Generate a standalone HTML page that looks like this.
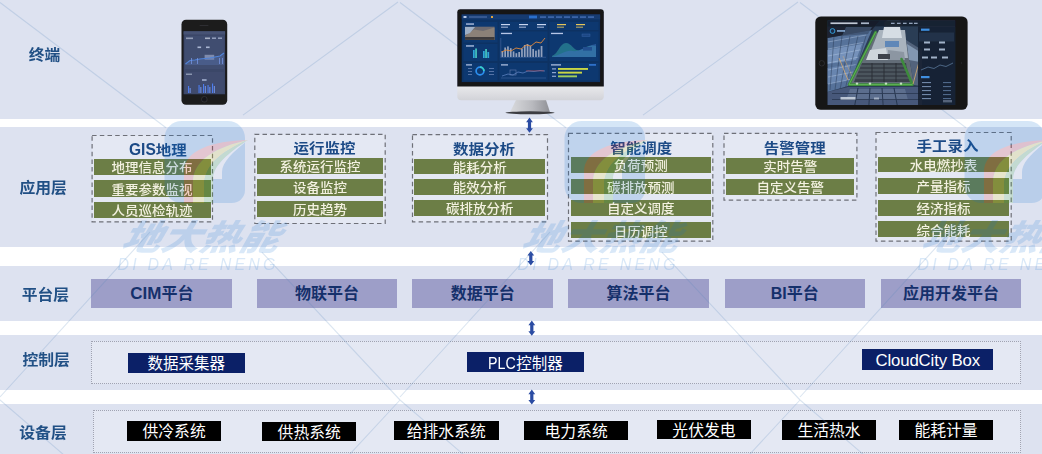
<!DOCTYPE html>
<html lang="zh-CN"><head><meta charset="utf-8"><title>系统架构</title>
<style>
html,body{margin:0;padding:0;background:#fff;}
body{width:1042px;height:454px;position:relative;overflow:hidden;font-family:"Liberation Sans","Noto Sans CJK SC",sans-serif;}
.abs,.band,.lab,.dash,.g,.ttl,.p,.nv,.bk,.dot{position:absolute;box-sizing:border-box;}
.band{left:0;width:1042px;background:#dde2f0;}
.lab{left:0;width:90px;text-align:center;color:#215085;font-weight:700;font-size:15.8px;transform:scaleY(.93);transform-origin:50% 50%;line-height:20px;white-space:nowrap;}
.dash{border:1.3px dashed #7f8696;}
.sq{display:inline-block;transform:scaleY(.93);transform-origin:50% 60%;}
.g{background:#6c7e46;color:#f3f1e0;font-weight:500;font-size:13.5px;line-height:16px;text-align:center;white-space:nowrap;overflow:hidden;}
.ttl{color:#1c4a86;font-weight:700;font-size:15.5px;line-height:18px;transform:scaleY(.9);transform-origin:50% 90%;text-align:center;white-space:nowrap;}
.p{background:#9d9ec8;color:#15306b;font-weight:700;font-size:16px;text-align:center;white-space:nowrap;}
.nv{background:#0b2067;color:#fff;font-size:15.5px;text-align:center;white-space:nowrap;}
.bk{background:#000;color:#fff;font-size:15.8px;text-align:center;white-space:nowrap;}
.dot{border:1px dotted #a0a3b2;background:rgba(255,255,255,.22);}
svg{position:absolute;left:0;top:0;}
</style></head><body>

<div class="band" style="top:0px;height:119px"></div>
<div class="band" style="top:127px;height:120px"></div>
<div class="band" style="top:266px;height:55px"></div>
<div class="band" style="top:335px;height:55px"></div>
<div class="band" style="top:404px;height:50px"></div>
<div class="lab" style="left:-0.4px;top:44.6px">终端</div>
<div class="lab" style="left:-1.8px;top:178.2px">应用层</div>
<div class="lab" style="left:0.4px;top:285.0px">平台层</div>
<div class="lab" style="left:1.2px;top:350.2px">控制层</div>
<div class="lab" style="left:-2.0px;top:422.5px">设备层</div>
<svg width="1042" height="454" viewBox="0 0 1042 454" fill="none"><rect x="92.1" y="135.5" width="120.4" height="86.3" fill="rgba(255,255,255,0.22)" stroke="#6e7078" stroke-width="1.2" stroke-dasharray="4.5 3.2"/><rect x="254.8" y="134.3" width="130.4" height="89.2" fill="rgba(255,255,255,0.22)" stroke="#6e7078" stroke-width="1.2" stroke-dasharray="4.5 3.2"/><rect x="412.5" y="134.7" width="135.0" height="87.1" fill="rgba(255,255,255,0.22)" stroke="#6e7078" stroke-width="1.2" stroke-dasharray="4.5 3.2"/><rect x="568.5" y="133.4" width="144.3" height="107.7" fill="rgba(255,255,255,0.22)" stroke="#6e7078" stroke-width="1.2" stroke-dasharray="4.5 3.2"/><rect x="724.0" y="133.4" width="132.9" height="66.8" fill="rgba(255,255,255,0.22)" stroke="#6e7078" stroke-width="1.2" stroke-dasharray="4.5 3.2"/><rect x="876.0" y="132.5" width="135.2" height="108.6" fill="rgba(255,255,255,0.22)" stroke="#6e7078" stroke-width="1.2" stroke-dasharray="4.5 3.2"/></svg>
<div class="ttl" style="left:97.8px;top:139.6px;width:120px"><span style="display:inline-block;width:27px;text-align:left;vertical-align:baseline"><span style="display:inline-block;font-size:18.4px;transform:scaleX(.845);transform-origin:0 50%">GIS</span></span>地理</div>
<div class="g" style="left:93.5px;top:158.6px;width:117.2px;height:16.1px;line-height:18.7px"><span class="sq">地理信息分布</span></div>
<div class="g" style="left:93.5px;top:180.2px;width:117.2px;height:16.6px;line-height:19.2px"><span class="sq">重要参数监视</span></div>
<div class="g" style="left:93.5px;top:202.3px;width:117.2px;height:15.5px;line-height:18.1px"><span class="sq">人员巡检轨迹</span></div>
<div class="ttl" style="left:264.6px;top:139.3px;width:120px">运行监控</div>
<div class="g" style="left:256.8px;top:158.0px;width:126.6px;height:15.6px;line-height:18.2px"><span class="sq">系统运行监控</span></div>
<div class="g" style="left:256.8px;top:179.3px;width:126.6px;height:16.3px;line-height:18.9px"><span class="sq">设备监控</span></div>
<div class="g" style="left:256.8px;top:201.3px;width:126.6px;height:15.7px;line-height:18.3px"><span class="sq">历史趋势</span></div>
<div class="ttl" style="left:424.0px;top:139.5px;width:120px">数据分析</div>
<div class="g" style="left:414.3px;top:158.5px;width:130.9px;height:15.5px;line-height:18.1px"><span class="sq">能耗分析</span></div>
<div class="g" style="left:414.3px;top:179.3px;width:130.9px;height:15.5px;line-height:18.1px"><span class="sq">能效分析</span></div>
<div class="g" style="left:414.3px;top:200.3px;width:130.9px;height:16.0px;line-height:18.6px"><span class="sq">碳排放分析</span></div>
<div class="ttl" style="left:581.3px;top:139.0px;width:120px">智能调度</div>
<div class="g" style="left:570.7px;top:157.2px;width:140.3px;height:15.8px;line-height:18.4px"><span class="sq">负荷预测</span></div>
<div class="g" style="left:570.7px;top:178.7px;width:140.3px;height:15.7px;line-height:18.3px"><span class="sq">碳排放预测</span></div>
<div class="g" style="left:570.7px;top:200.0px;width:140.3px;height:15.9px;line-height:18.5px"><span class="sq">自定义调度</span></div>
<div class="g" style="left:570.7px;top:221.6px;width:140.3px;height:16.4px;line-height:19.0px"><span class="sq">日历调控</span></div>
<div class="ttl" style="left:734.7px;top:139.3px;width:120px">告警管理</div>
<div class="g" style="left:725.8px;top:158.0px;width:128.7px;height:15.8px;line-height:18.4px"><span class="sq">实时告警</span></div>
<div class="g" style="left:725.8px;top:179.2px;width:128.7px;height:15.8px;line-height:18.4px"><span class="sq">自定义告警</span></div>
<div class="ttl" style="left:887.5px;top:137.0px;width:120px">手工录入</div>
<div class="g" style="left:877.7px;top:156.6px;width:131.7px;height:15.8px;line-height:18.4px"><span class="sq">水电燃抄表</span></div>
<div class="g" style="left:877.7px;top:178.0px;width:131.7px;height:15.8px;line-height:18.4px"><span class="sq">产量指标</span></div>
<div class="g" style="left:877.7px;top:199.6px;width:131.7px;height:16.3px;line-height:18.9px"><span class="sq">经济指标</span></div>
<div class="g" style="left:877.7px;top:220.7px;width:131.7px;height:16.6px;line-height:19.2px"><span class="sq">综合能耗</span></div>
<div class="p" style="left:91.4px;top:279.2px;width:141.0px;height:28.5px;line-height:30px"><span style="font-size:17px">CIM</span>平台</div>
<div class="p" style="left:256.8px;top:279.2px;width:140.4px;height:28.5px;line-height:30px">物联平台</div>
<div class="p" style="left:412.3px;top:279.2px;width:141.1px;height:28.5px;line-height:30px">数据平台</div>
<div class="p" style="left:568.2px;top:279.2px;width:140.6px;height:28.5px;line-height:30px">算法平台</div>
<div class="p" style="left:724.6px;top:279.2px;width:140.4px;height:28.5px;line-height:30px">BI平台</div>
<div class="p" style="left:880.8px;top:279.2px;width:140.4px;height:28.5px;line-height:30px">应用开发平台</div>
<div class="dot" style="left:90.7px;top:341px;width:930.5px;height:42.5px"></div>
<div class="nv" style="left:128.0px;top:353.4px;width:116.6px;height:19.4px;line-height:21.8px">数据采集器</div>
<div class="nv" style="left:467.2px;top:352.2px;width:116.8px;height:19.6px;line-height:22.0px"><span style="display:inline-block;width:27.9px;text-align:left"><span style="display:inline-block;font-size:16.3px;transform:scaleX(.875);transform-origin:0 50%">PLC</span></span>控制器</div>
<div class="nv" style="left:862.0px;top:349.3px;width:131.4px;height:20.4px;line-height:23.2px"><span style="font-size:16.8px;letter-spacing:-.15px">CloudCity Box</span></div>
<div class="dot" style="left:93.4px;top:410.3px;width:927.8px;height:42.6px"></div>
<div class="bk" style="left:127.2px;top:421.1px;width:93.8px;height:19.7px;line-height:22.3px">供冷系统</div>
<div class="bk" style="left:262.0px;top:421.6px;width:94.4px;height:19.8px;line-height:22.4px">供热系统</div>
<div class="bk" style="left:393.7px;top:420.9px;width:105.1px;height:19.1px;line-height:21.7px">给排水系统</div>
<div class="bk" style="left:523.8px;top:420.6px;width:104.7px;height:19.0px;line-height:21.6px">电力系统</div>
<div class="bk" style="left:656.7px;top:420.3px;width:94.5px;height:19.2px;line-height:21.8px">光伏发电</div>
<div class="bk" style="left:781.7px;top:420.3px;width:94.7px;height:19.3px;line-height:21.9px">生活热水</div>
<div class="bk" style="left:899.0px;top:420.3px;width:94.0px;height:19.3px;line-height:21.9px">能耗计量</div>
<svg width="1042" height="454" viewBox="0 0 1042 454"><path d="M529.5 117.6 L532.9 122.2 L531.1 122.2 L531.1 128.2 L532.9 128.2 L529.5 132.8 L526.1 128.2 L527.9 128.2 L527.9 122.2 L526.1 122.2 Z" fill="#2b4ca3"/><path d="M530.8 250.9 L534.2 255.5 L532.4 255.5 L532.4 260.9 L534.2 260.9 L530.8 265.5 L527.4 260.9 L529.2 260.9 L529.2 255.5 L527.4 255.5 Z" fill="#2b4ca3"/><path d="M531.8 320.6 L535.2 325.2 L533.4 325.2 L533.4 331.2 L535.2 331.2 L531.8 335.8 L528.4 331.2 L530.2 331.2 L530.2 325.2 L528.4 325.2 Z" fill="#2b4ca3"/><path d="M531.8 389.6 L535.2 394.2 L533.4 394.2 L533.4 399.9 L535.2 399.9 L531.8 404.5 L528.4 399.9 L530.2 399.9 L530.2 394.2 L528.4 394.2 Z" fill="#2b4ca3"/></svg>
<svg width="1042" height="454" viewBox="0 0 1042 454" style="pointer-events:none"><g transform="translate(0 0)"><g opacity=".165"><path d="M181.5 121.0 H228.0 A17 17 0 0 1 245.0 138.0 V190.0 A13 13 0 0 1 232.0 203.0 H181.5 A17 17 0 0 1 164.5 186.0 V138.0 A17 17 0 0 1 181.5 121.0 Z" fill="#0a6ed2"/><path d="M184 203 L184 172 C184 150 212 141 248 140 C216 147 193 160 193 182 L193 203 Z" fill="#e6202c"/><path d="M193 203 L193 182 C193 160 216 147 248 140 C222 151 204 165 204 186 L204 203 Z" fill="#fae114"/><path d="M204 203 L204 186 C204 165 222 151 248 140 C228 153 213 166 213 179 L213 203 Z" fill="#46b43c"/><path d="M213 179 C213 166 228 153 248 140 C233 152 222 162 222 172 L222 179 Z" fill="#ffffff"/></g><text x="119.5" y="250" font-family="'Liberation Sans','Noto Sans CJK SC',sans-serif" font-weight="900" font-style="italic" font-size="35" fill="#0a6ed2" opacity=".15" textLength="157" lengthAdjust="spacingAndGlyphs" transform="translate(71.69 0) skewX(-16)">地大热能</text><text x="117.5" y="269.6" font-family="'Liberation Sans',sans-serif" font-style="italic" font-size="16" fill="#0a6ed2" opacity=".15" textLength="158" lengthAdjust="spacing">DI DA RE NENG</text></g><g transform="translate(400 0)"><g opacity=".165"><path d="M181.5 121.0 H228.0 A17 17 0 0 1 245.0 138.0 V190.0 A13 13 0 0 1 232.0 203.0 H181.5 A17 17 0 0 1 164.5 186.0 V138.0 A17 17 0 0 1 181.5 121.0 Z" fill="#0a6ed2"/><path d="M184 203 L184 172 C184 150 212 141 248 140 C216 147 193 160 193 182 L193 203 Z" fill="#e6202c"/><path d="M193 203 L193 182 C193 160 216 147 248 140 C222 151 204 165 204 186 L204 203 Z" fill="#fae114"/><path d="M204 203 L204 186 C204 165 222 151 248 140 C228 153 213 166 213 179 L213 203 Z" fill="#46b43c"/><path d="M213 179 C213 166 228 153 248 140 C233 152 222 162 222 172 L222 179 Z" fill="#ffffff"/></g><text x="119.5" y="250" font-family="'Liberation Sans','Noto Sans CJK SC',sans-serif" font-weight="900" font-style="italic" font-size="35" fill="#0a6ed2" opacity=".15" textLength="157" lengthAdjust="spacingAndGlyphs" transform="translate(71.69 0) skewX(-16)">地大热能</text><text x="117.5" y="269.6" font-family="'Liberation Sans',sans-serif" font-style="italic" font-size="16" fill="#0a6ed2" opacity=".15" textLength="158" lengthAdjust="spacing">DI DA RE NENG</text></g><g transform="translate(800 0)"><g opacity=".165"><path d="M181.5 121.0 H228.0 A17 17 0 0 1 245.0 138.0 V190.0 A13 13 0 0 1 232.0 203.0 H181.5 A17 17 0 0 1 164.5 186.0 V138.0 A17 17 0 0 1 181.5 121.0 Z" fill="#0a6ed2"/><path d="M184 203 L184 172 C184 150 212 141 248 140 C216 147 193 160 193 182 L193 203 Z" fill="#e6202c"/><path d="M193 203 L193 182 C193 160 216 147 248 140 C222 151 204 165 204 186 L204 203 Z" fill="#fae114"/><path d="M204 203 L204 186 C204 165 222 151 248 140 C228 153 213 166 213 179 L213 203 Z" fill="#46b43c"/><path d="M213 179 C213 166 228 153 248 140 C233 152 222 162 222 172 L222 179 Z" fill="#ffffff"/></g><text x="119.5" y="250" font-family="'Liberation Sans','Noto Sans CJK SC',sans-serif" font-weight="900" font-style="italic" font-size="35" fill="#0a6ed2" opacity=".15" textLength="157" lengthAdjust="spacingAndGlyphs" transform="translate(71.69 0) skewX(-16)">地大热能</text><text x="117.5" y="269.6" font-family="'Liberation Sans',sans-serif" font-style="italic" font-size="16" fill="#0a6ed2" opacity=".15" textLength="158" lengthAdjust="spacing">DI DA RE NENG</text></g></svg>
<svg width="1042" height="454" viewBox="0 0 1042 454" style="pointer-events:none"><g stroke="#4f82b8" stroke-width="1.1" opacity=".2" fill="none"><line x1="-400.0" y1="2.5" x2="-234.0" y2="127.8"/><line x1="-2.0" y1="2.0" x2="-157.0" y2="115.1"/><line x1="-400.0" y1="397.0" x2="-250.0" y2="232.0"/><line x1="0.0" y1="400.0" x2="-138.0" y2="252.3"/><line x1="0.0" y1="400.0" x2="70.0" y2="460.2"/><line x1="0.0" y1="400.0" x2="-60.0" y2="464.8"/><line x1="0.0" y1="2.5" x2="166.0" y2="127.8"/><line x1="398.0" y1="2.0" x2="243.0" y2="115.1"/><line x1="0.0" y1="397.0" x2="150.0" y2="232.0"/><line x1="400.0" y1="400.0" x2="262.0" y2="252.3"/><line x1="400.0" y1="400.0" x2="470.0" y2="460.2"/><line x1="400.0" y1="400.0" x2="340.0" y2="464.8"/><line x1="400.0" y1="2.5" x2="566.0" y2="127.8"/><line x1="798.0" y1="2.0" x2="643.0" y2="115.1"/><line x1="400.0" y1="397.0" x2="550.0" y2="232.0"/><line x1="800.0" y1="400.0" x2="662.0" y2="252.3"/><line x1="800.0" y1="400.0" x2="870.0" y2="460.2"/><line x1="800.0" y1="400.0" x2="740.0" y2="464.8"/><line x1="800.0" y1="2.5" x2="966.0" y2="127.8"/><line x1="1198.0" y1="2.0" x2="1043.0" y2="115.1"/><line x1="800.0" y1="397.0" x2="950.0" y2="232.0"/><line x1="1200.0" y1="400.0" x2="1062.0" y2="252.3"/><line x1="1200.0" y1="400.0" x2="1270.0" y2="460.2"/><line x1="1200.0" y1="400.0" x2="1140.0" y2="464.8"/></g></svg>
<svg width="1042" height="125" viewBox="0 0 1042 125"><defs><filter id="b1" x="-5%" y="-5%" width="110%" height="110%"><feGaussianBlur stdDeviation="0.45"/></filter><linearGradient id="chin" x1="0" y1="0" x2="0" y2="1"><stop offset="0" stop-color="#e9e9ec"/><stop offset="1" stop-color="#d2d3d8"/></linearGradient><linearGradient id="stand" x1="0" y1="0" x2="1" y2="0"><stop offset="0" stop-color="#d9dadd"/><stop offset="0.55" stop-color="#b9babf"/><stop offset="1" stop-color="#8f9096"/></linearGradient><linearGradient id="tscr" x1="0" y1="0" x2="1" y2="1"><stop offset="0" stop-color="#2b3b52"/><stop offset="1" stop-color="#182334"/></linearGradient></defs><g filter="url(#b1)"><rect x="181.5" y="19.7" width="45.7" height="85" rx="4.5" fill="#1b1b1d"/><rect x="183.6" y="31.3" width="41.5" height="63" fill="#3b4767"/><rect x="183.6" y="31.3" width="41.5" height="3.2" fill="#465375"/><rect x="185" y="36" width="38.8" height="33" fill="#414e70"/><rect x="185" y="72" width="38.8" height="21.5" fill="#3f4c6e"/><rect x="186" y="37.5" width="7" height="1.6" fill="#c9d2e6" opacity=".6"/><rect x="205" y="37.5" width="5" height="1.6" fill="#dfe5f3" opacity=".65"/><rect x="212" y="37.5" width="4" height="1.4" fill="#9aa6c4"/><rect x="218" y="37.5" width="4" height="1.4" fill="#9aa6c4"/><rect x="197.5" y="46.5" width="3.6" height="1.6" fill="#aab6d3"/><rect x="206" y="46.5" width="3.6" height="1.6" fill="#aab6d3"/><rect x="204.6" y="54.8" width="9.6" height="5" fill="#8f9bbd" opacity=".8"/><polyline points="185.5,64 190,60.5 195,60 200,59 205,58.5 210,58 215,57 220,56 224,53" fill="none" stroke="#4f86e0" stroke-width="1.1"/><polygon points="185.5,64 190,60.5 195,60 200,59 205,58.5 210,58 215,57 220,56 224,53 224,65 185.5,65" fill="#5a78b8" opacity=".35"/><rect x="191" y="58" width="0.9" height="6" fill="#7a9ae8" opacity=".8"/><rect x="197" y="58" width="0.9" height="6" fill="#7a9ae8" opacity=".8"/><rect x="219" y="58" width="0.9" height="6" fill="#7a9ae8" opacity=".8"/><rect x="222" y="58" width="0.9" height="6" fill="#7a9ae8" opacity=".8"/><rect x="186" y="73.5" width="6" height="1.5" fill="#c9d2e6" opacity=".55"/><rect x="202" y="79" width="4.6" height="2" fill="#8d9abb"/><rect x="188.0" y="86.0" width="1.1" height="7.0" fill="#4d7cf0"/><rect x="189.6" y="88.0" width="1.1" height="5.0" fill="#6f8fe0"/><rect x="198.5" y="85.0" width="1.1" height="8.0" fill="#4d7cf0"/><rect x="200.3" y="87.0" width="1.1" height="6.0" fill="#6f8fe0"/><rect x="203.0" y="84.0" width="1.1" height="9.0" fill="#4d7cf0"/><rect x="204.8" y="86.0" width="1.1" height="7.0" fill="#6f8fe0"/><rect x="207.5" y="85.0" width="1.1" height="8.0" fill="#4d7cf0"/><rect x="209.3" y="87.0" width="1.1" height="6.0" fill="#6f8fe0"/><rect x="212.0" y="83.5" width="1.1" height="9.5" fill="#4d7cf0"/><rect x="213.8" y="86.0" width="1.1" height="7.0" fill="#6f8fe0"/><rect x="199.5" y="25" width="9" height="0.9" rx=".4" fill="#2e2e31"/><circle cx="204.3" cy="99.3" r="2.9" fill="#19191b" stroke="#3a3a3e" stroke-width=".7"/></g><g filter="url(#b1)"><path d="M516 100 L546 100 L550 112.2 L510 112.2 Z" fill="url(#stand)"/><ellipse cx="530" cy="112.8" rx="24.5" ry="1.5" fill="#3c3d42"/><path d="M457.3 86 H603.8 V96.2 a4 4 0 0 1 -4 4 H461.3 a4 4 0 0 1 -4 -4 Z" fill="url(#chin)"/><path d="M460.3 9.3 H600.8 a3 3 0 0 1 3 3 V86.6 H457.3 V12.3 a3 3 0 0 1 3 -3 Z" fill="#141518"/><rect x="461.7" y="14.5" width="138.4" height="67.6" fill="#0f3164"/><rect x="461.7" y="14.5" width="138.4" height="5" fill="#143a70"/><rect x="529" y="15.6" width="8" height="2.8" fill="#2a6fcc"/><rect x="540" y="16.2" width="6" height="1.8" fill="#3a64a6"/><rect x="548" y="16.2" width="6" height="1.8" fill="#3a64a6"/><rect x="556" y="16.2" width="6" height="1.8" fill="#3a64a6"/><rect x="564" y="16.2" width="6" height="1.8" fill="#3a64a6"/><rect x="572" y="16.2" width="6" height="1.8" fill="#3a64a6"/><rect x="580" y="16.2" width="6" height="1.8" fill="#3a64a6"/><rect x="588" y="16.2" width="6" height="1.8" fill="#3a64a6"/><rect x="463.5" y="16" width="3" height="2" fill="#b8c9e8"/><rect x="469" y="16.4" width="18" height="1.2" fill="#4f6ea6"/><rect x="491" y="16" width="2" height="2" fill="#e0a43a"/><rect x="463.5" y="22" width="34" height="20.5" fill="#123c74" opacity=".75"/><rect x="463.5" y="44" width="34" height="17" fill="#123c74" opacity=".75"/><rect x="463.5" y="63" width="34" height="17.5" fill="#123c74" opacity=".75"/><rect x="499.5" y="22" width="48" height="8" fill="#123c74" opacity=".75"/><rect x="499.5" y="31.5" width="48" height="29.5" fill="#123c74" opacity=".75"/><rect x="499.5" y="63" width="48" height="17.5" fill="#123c74" opacity=".75"/><rect x="549.5" y="22" width="49" height="8" fill="#123c74" opacity=".75"/><rect x="549.5" y="31.5" width="49" height="29.5" fill="#123c74" opacity=".75"/><rect x="549.5" y="63" width="49" height="17.5" fill="#123c74" opacity=".75"/><rect x="465" y="26.7" width="29.5" height="13.2" fill="#6d6b70"/><polygon points="465,36 474,29.5 483,31 494.5,27.5 494.5,39.9 465,39.9" fill="#8b8178"/><polygon points="465,27 475,27 470,33 465,35" fill="#9fb0c6"/><rect x="465" y="37" width="29.5" height="2.9" fill="#3d3b3e"/><rect x="466" y="23.4" width="8" height="1.3" fill="#b6c6e6"/><rect x="473" y="50.0" width="1.7" height="8" fill="#2ea6d8"/><rect x="475.2" y="48.5" width="1.7" height="9.5" fill="#46c8c0"/><rect x="483" y="51.0" width="1.7" height="7" fill="#2ea6d8"/><rect x="485.2" y="49.0" width="1.7" height="9" fill="#46c8c0"/><rect x="487.4" y="52.0" width="1.7" height="6" fill="#2ea6d8"/><rect x="466" y="45.3" width="8" height="1.3" fill="#b6c6e6"/><circle cx="480" cy="71" r="3.9" fill="none" stroke="#2c8ff0" stroke-width="1.7"/><path d="M480 67.1 A3.9 3.9 0 0 1 483.9 71" fill="none" stroke="#37d0c8" stroke-width="1.7"/><rect x="466" y="64.3" width="6" height="1.2" fill="#b6c6e6"/><rect x="489" y="68" width="5" height="1" fill="#5573a6"/><rect x="468" y="68" width="4" height="1" fill="#5573a6"/><rect x="489" y="71" width="5" height="1" fill="#5573a6"/><rect x="468" y="71" width="4" height="1" fill="#5573a6"/><rect x="489" y="74" width="5" height="1" fill="#5573a6"/><rect x="468" y="74" width="4" height="1" fill="#5573a6"/><rect x="501" y="24" width="9" height="1.2" fill="#c8d6f0"/><rect x="501" y="26.6" width="7" height="1.2" fill="#c8d6f0" opacity=".7"/><rect x="519" y="24" width="9" height="1.2" fill="#c8d6f0"/><rect x="519" y="26.6" width="7" height="1.2" fill="#c8d6f0" opacity=".7"/><rect x="537" y="24" width="9" height="1.2" fill="#c8d6f0"/><rect x="537" y="26.6" width="7" height="1.2" fill="#c8d6f0" opacity=".7"/><rect x="557" y="24" width="9" height="1.2" fill="#e6c65a"/><rect x="557" y="26.6" width="7" height="1.2" fill="#e6c65a" opacity=".7"/><rect x="576" y="24" width="9" height="1.2" fill="#e6c65a"/><rect x="576" y="26.6" width="7" height="1.2" fill="#e6c65a" opacity=".7"/><rect x="501" y="32.8" width="11" height="1.3" fill="#b6c6e6"/><rect x="501.5" y="51.0" width="1.7" height="6.0" fill="#93a2be"/><rect x="504.3" y="47.5" width="1.7" height="9.5" fill="#93a2be"/><rect x="507.1" y="46.4" width="1.7" height="10.6" fill="#93a2be"/><rect x="509.9" y="48.2" width="1.7" height="8.8" fill="#93a2be"/><rect x="512.7" y="51.4" width="1.7" height="5.6" fill="#93a2be"/><rect x="515.5" y="53.2" width="1.7" height="3.8" fill="#93a2be"/><rect x="518.3" y="52.0" width="1.7" height="5.0" fill="#93a2be"/><rect x="521.1" y="48.5" width="1.7" height="8.5" fill="#93a2be"/><rect x="523.9" y="45.0" width="1.7" height="12.0" fill="#93a2be"/><rect x="526.7" y="44.0" width="1.7" height="13.0" fill="#93a2be"/><rect x="529.5" y="45.9" width="1.7" height="11.1" fill="#93a2be"/><rect x="532.3" y="49.0" width="1.7" height="8.0" fill="#93a2be"/><rect x="535.1" y="50.7" width="1.7" height="6.3" fill="#93a2be"/><rect x="537.9" y="49.5" width="1.7" height="7.5" fill="#93a2be"/><rect x="540.7" y="46.0" width="1.7" height="11.0" fill="#93a2be"/><polyline points="501.5,52 506,50 511,51 516,48 521,49 526,45 531,46 536,42 541,43 545,38" fill="none" stroke="#e08a3c" stroke-width=".9"/><line x1="500.5" y1="57.3" x2="546" y2="57.3" stroke="#4f6ea6" stroke-width=".5"/><line x1="500.8" y1="38" x2="500.8" y2="57.3" stroke="#4f6ea6" stroke-width=".5"/><rect x="551" y="32.8" width="12" height="1.3" fill="#b6c6e6"/><path d="M552 56 C558 54 560 43 566 43 C572 43 574 52 580 50 C586 48 588 44 596 46 L596 57 L552 57 Z" fill="#2f8f9a" opacity=".65"/><path d="M552 57 C560 55 566 50 572 51 C580 52 584 47 596 44 L596 57 Z" fill="#3a6fb8" opacity=".6"/><rect x="582" y="34" width="8" height="2.4" fill="#1b4684" stroke="#3f6cb0" stroke-width=".4"/><rect x="583" y="47" width="9" height="3.6" fill="#23508f"/><rect x="501" y="64.3" width="7" height="1.2" fill="#b6c6e6"/><polyline points="502,76 508,74 513,75 518,72 523,73 528,71 534,71.5 540,70.5 545,71" fill="none" stroke="#5e86c8" stroke-width=".7"/><circle cx="527.0" cy="70.8" r=".6" fill="#d04a4a"/><circle cx="529.0" cy="70.8" r=".6" fill="#d04a4a"/><circle cx="531.0" cy="70.8" r=".6" fill="#d04a4a"/><circle cx="533.0" cy="70.8" r=".6" fill="#d04a4a"/><circle cx="535.0" cy="70.8" r=".6" fill="#d04a4a"/><circle cx="537.0" cy="70.8" r=".6" fill="#d04a4a"/><circle cx="539.0" cy="70.8" r=".6" fill="#d04a4a"/><circle cx="541.0" cy="70.8" r=".6" fill="#d04a4a"/><circle cx="543.0" cy="70.8" r=".6" fill="#d04a4a"/><rect x="510" y="70" width="6" height="5" fill="none" stroke="#6d86b8" stroke-width=".5"/><line x1="501" y1="78" x2="546" y2="78" stroke="#4f6ea6" stroke-width=".5"/><rect x="551" y="64.3" width="10" height="1.2" fill="#b6c6e6"/><rect x="589" y="64" width="7" height="1.8" fill="#2f6fc8"/><rect x="558" y="68" width="30" height="1.9" fill="#c9d645"/><rect x="552" y="68.3" width="4" height="1.2" fill="#8fa6d0"/><rect x="558" y="71.7" width="24" height="1.9" fill="#c9d645"/><rect x="552" y="72.0" width="4" height="1.2" fill="#8fa6d0"/><rect x="558" y="75.4" width="19" height="1.9" fill="#9fce5a"/><rect x="552" y="75.7" width="4" height="1.2" fill="#8fa6d0"/></g><g filter="url(#b1)"><rect x="815.3" y="16.5" width="152.3" height="93.3" rx="5.5" fill="#151516"/><clipPath id="tclip"><rect x="827.4" y="20.2" width="128" height="84.8"/></clipPath><g clip-path="url(#tclip)"><rect x="827.4" y="20.2" width="128" height="84.8" fill="#2c3c54"/><polygon points="827.4,38 872,30 848,86 827.4,92" fill="#56729a"/><polygon points="827.4,50 862,44 856,60 827.4,64" fill="#7f9cc4" opacity=".75"/><polygon points="827.4,68 852,64 848,80 827.4,84" fill="#6d8ab4" opacity=".8"/><line x1="828" y1="42.0" x2="866.0" y2="35.0" stroke="#c4d6ee" stroke-width=".7" opacity=".55"/><line x1="828" y1="49.0" x2="863.4" y2="42.4" stroke="#c4d6ee" stroke-width=".7" opacity=".55"/><line x1="828" y1="56.0" x2="860.8" y2="49.8" stroke="#c4d6ee" stroke-width=".7" opacity=".55"/><line x1="828" y1="63.0" x2="858.2" y2="57.2" stroke="#c4d6ee" stroke-width=".7" opacity=".55"/><line x1="828" y1="70.0" x2="855.6" y2="64.6" stroke="#c4d6ee" stroke-width=".7" opacity=".55"/><line x1="828" y1="77.0" x2="853.0" y2="72.0" stroke="#c4d6ee" stroke-width=".7" opacity=".55"/><line x1="828" y1="84.0" x2="850.4" y2="79.4" stroke="#c4d6ee" stroke-width=".7" opacity=".55"/><line x1="834.0" y1="36" x2="830.0" y2="90" stroke="#2a3a54" stroke-width=".8" opacity=".6"/><line x1="842.0" y1="36" x2="835.0" y2="90" stroke="#2a3a54" stroke-width=".8" opacity=".6"/><line x1="850.0" y1="36" x2="840.0" y2="90" stroke="#2a3a54" stroke-width=".8" opacity=".6"/><line x1="858.0" y1="36" x2="845.0" y2="90" stroke="#2a3a54" stroke-width=".8" opacity=".6"/><line x1="866.0" y1="36" x2="850.0" y2="90" stroke="#2a3a54" stroke-width=".8" opacity=".6"/><polygon points="827.4,20 880,20 872,30 827.4,38" fill="#1b2433"/><polygon points="846,27 872,27 868,34 842,36" fill="#3f5270" opacity=".8"/><ellipse cx="893" cy="24" rx="9" ry="5" fill="#3b4654"/><polygon points="875.5,32 906,40 914,85 849,85" fill="#636d78"/><polygon points="879,30 905,30 908,58 868,58 " fill="#a9b3be"/><polygon points="884,27 900,27 902,38 882,38" fill="#d6dde4"/><rect x="885" y="41" width="14" height="6" fill="#5f87b8"/><polygon points="870,50 886,48 888,60 866,60" fill="#cfd6dc"/><polygon points="888,50 904,52 905,60 888,60" fill="#8c96a2"/><rect x="878" y="54" width="12" height="5" fill="#3c434c"/><polygon points="862,63 906,63 910,82 854,82" fill="#3b424b"/><line x1="860.7" y1="66" x2="906.6" y2="66" stroke="#6c7682" stroke-width=".7"/><line x1="859.1" y1="70" x2="907.5" y2="70" stroke="#6c7682" stroke-width=".7"/><line x1="857.4" y1="74" x2="908.3" y2="74" stroke="#6c7682" stroke-width=".7"/><line x1="855.7" y1="78" x2="909.1" y2="78" stroke="#6c7682" stroke-width=".7"/><line x1="872" y1="63" x2="872" y2="82" stroke="#23282f" stroke-width=".8"/><line x1="884" y1="63" x2="884" y2="82" stroke="#23282f" stroke-width=".8"/><line x1="896" y1="63" x2="896" y2="82" stroke="#23282f" stroke-width=".8"/><polyline points="875.6,32 849,84.6 912.5,84.6 901.5,59" fill="none" stroke="#3d8a3c" stroke-width="2.6" stroke-linejoin="round" stroke-linecap="round"/><polyline points="875.6,32 849,84.6 912.5,84.6" fill="none" stroke="#6cc060" stroke-width=".9" opacity=".8"/><circle cx="857" cy="83.6" r="1.2" fill="#d8f2d4" opacity=".85"/><circle cx="870" cy="83.6" r="1.2" fill="#d8f2d4" opacity=".85"/><circle cx="886" cy="83.6" r="1.2" fill="#d8f2d4" opacity=".85"/><circle cx="901" cy="83.6" r="1.2" fill="#d8f2d4" opacity=".85"/><polygon points="906,40 922,50 922,86 914,85" fill="#52647c"/><polygon points="907,44 920,52 920,62 909,60" fill="#8fa4be" opacity=".8"/><polygon points="827.4,92 848,87 922,87 922,105 827.4,105" fill="#46587a"/><polygon points="850,89 905,89 908,100 846,100" fill="#5b6e8e"/><line x1="858" y1="88" x2="854.8" y2="105" stroke="#283650" stroke-width="1"/><line x1="870" y1="88" x2="868.9" y2="105" stroke="#283650" stroke-width="1"/><line x1="882" y1="88" x2="883.1" y2="105" stroke="#283650" stroke-width="1"/><line x1="894" y1="88" x2="897.2" y2="105" stroke="#283650" stroke-width="1"/><line x1="832" y1="93.5" x2="922" y2="93.5" stroke="#2b3a55" stroke-width=".9"/><line x1="832" y1="99.5" x2="922" y2="99.5" stroke="#2b3a55" stroke-width=".9"/><rect x="840.5" y="97" width="15" height="2.6" fill="#d0d8e4" opacity=".85"/><rect x="874" y="97.5" width="5" height="2" fill="#c0cadb" opacity=".7"/><line x1="839" y1="58" x2="848" y2="80" stroke="#e0b070" stroke-width=".9" opacity=".85"/><line x1="843" y1="56" x2="852" y2="76" stroke="#e0b070" stroke-width=".7" opacity=".6"/><line x1="919" y1="62" x2="913" y2="84" stroke="#e0b070" stroke-width=".9" opacity=".85"/><rect x="827.4" y="20.2" width="128" height="6.2" fill="#141d2b" opacity=".8"/><rect x="830.5" y="22.4" width="27" height="1.7" fill="#d4dce8" opacity=".9"/><rect x="861" y="22.4" width="8" height="1.7" fill="#aab6c8"/><rect x="891" y="22.7" width="3.6" height="1.3" fill="#93a3bb"/><rect x="897" y="22.7" width="3.6" height="1.3" fill="#93a3bb"/><rect x="903" y="22.7" width="3.6" height="1.3" fill="#93a3bb"/><rect x="909" y="22.7" width="3.6" height="1.3" fill="#93a3bb"/><rect x="914" y="22.7" width="3.6" height="1.3" fill="#93a3bb"/><circle cx="832.5" cy="31" r="2.4" fill="#1b2b44" stroke="#37a6e6" stroke-width=".9"/><rect x="837" y="30.2" width="8" height="1.5" fill="#8fb6e0"/><rect x="918" y="26.4" width="37.4" height="78.6" fill="#182231" opacity=".93"/><rect x="921" y="28.6" width="8.5" height="2.2" fill="#3f8fe0"/><rect x="921" y="76" width="8.5" height="2.2" fill="#3f8fe0"/><rect x="919" y="32.5" width="35" height="9" fill="#22344c" opacity=".9"/><rect x="924" y="41.5" width="6" height="2" fill="#b8cbe4" opacity=".85"/><rect x="939" y="41.5" width="6" height="2" fill="#b8cbe4" opacity=".85"/><rect x="924" y="48.5" width="6" height="2" fill="#b8cbe4" opacity=".85"/><rect x="939" y="48.5" width="6" height="2" fill="#b8cbe4" opacity=".85"/><rect x="922" y="56.5" width="6" height="2" fill="#b8cbe4" opacity=".85"/><rect x="931" y="56.5" width="6" height="2" fill="#b8cbe4" opacity=".85"/><rect x="942" y="56.5" width="6" height="2" fill="#b8cbe4" opacity=".85"/><polyline points="921,70 928,67 934,68.5 940,65 946,66.5 953,63" fill="none" stroke="#5f7fa8" stroke-width=".7"/><rect x="922" y="82" width="9" height="1.1" fill="#6f87a8"/><rect x="943" y="82" width="8" height="1.1" fill="#50688a"/><rect x="922" y="86" width="9" height="1.1" fill="#6f87a8"/><rect x="943" y="86" width="8" height="1.1" fill="#50688a"/><rect x="922" y="90" width="9" height="1.1" fill="#6f87a8"/><rect x="943" y="90" width="8" height="1.1" fill="#50688a"/><rect x="922" y="94" width="9" height="1.1" fill="#6f87a8"/><rect x="943" y="94" width="8" height="1.1" fill="#50688a"/><rect x="922" y="98" width="9" height="1.1" fill="#6f87a8"/><rect x="943" y="98" width="8" height="1.1" fill="#50688a"/><rect x="943" y="100" width="9" height="2.4" fill="#6e7f98" opacity=".7"/></g><circle cx="821.8" cy="63.3" r="2.7" fill="#131314" stroke="#38383c" stroke-width=".7"/><circle cx="961.5" cy="63" r=".8" fill="#2c2c30"/></g></svg>
</body></html>
